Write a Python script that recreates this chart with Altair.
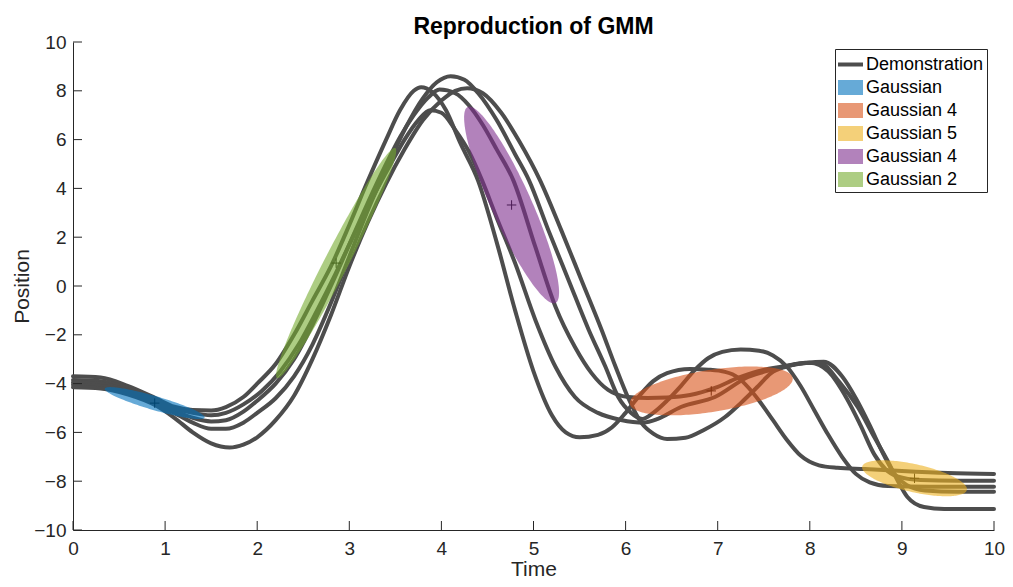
import altair as alt
import numpy as np
import pandas as pd

FONT = "Liberation Sans"

# ---------------- data ----------------
# five demonstrations (time, position)
demo_a_t = [0, 0.3, 0.6, 0.9, 1.1, 1.3, 1.5, 1.66, 1.85, 2.0, 2.2, 2.4, 2.6, 2.8, 3.0, 3.2, 3.4, 3.55, 3.7, 3.78,
            3.9, 4.05, 4.2, 4.4, 4.6, 4.8, 5.0, 5.2, 5.35, 5.5, 5.7, 5.85, 6.0, 6.15, 6.3, 6.45, 6.7, 6.9, 7.08,
            7.22, 7.33, 7.45, 7.6, 7.75, 7.9, 8.1, 8.3, 8.6, 9.0, 9.5, 10]
demo_a_y = [-3.70, -3.75, -4.1, -4.6, -4.95, -5.08, -5.1, -4.96, -4.55, -4.0, -3.2, -2.0, -0.6, 0.8, 2.5, 4.3, 6.0,
            7.2, 8.0, 8.15, 7.95, 7.2, 5.9, 4.3, 1.8, -1.0, -3.5, -5.3, -6.0, -6.2, -6.1, -5.8, -5.2, -4.5, -3.9,
            -3.57, -3.4, -3.43, -3.52, -3.75, -4.15, -4.7, -5.5, -6.3, -6.95, -7.35, -7.45, -7.5, -7.58, -7.66, -7.70]

demo_b_t = [0, 0.3, 0.6, 0.9, 1.1, 1.3, 1.5, 1.66, 1.85, 2.05, 2.25, 2.45, 2.65, 2.85, 3.05, 3.25, 3.45, 3.6, 3.75,
            3.88, 4.0, 4.15, 4.3, 4.44, 4.6, 4.8, 5.02, 5.24, 5.45, 5.7, 5.95, 6.2, 6.35, 6.6, 6.97, 7.33, 7.58, 7.8,
            8.0, 8.2, 8.4, 8.55, 8.7, 8.82, 8.95, 9.2, 9.6, 10]
demo_b_y = [-3.85, -3.9, -4.2, -4.7, -5.0, -5.2, -5.3, -5.2, -4.85, -4.3, -3.5, -2.4, -1.0, 0.5, 2.1, 3.6, 5.0, 6.0,
            6.8, 7.2, 7.1, 6.4, 5.5, 4.34, 2.8, 0.94, -1.39, -3.32, -4.55, -5.2, -5.49, -5.6, -5.45, -4.96, -4.55,
            -3.73, -3.44, -3.25, -3.15, -3.5, -4.6, -5.7, -6.9, -7.5, -7.8, -7.95, -7.98, -7.98]

demo_c_t = [0, 0.3, 0.6, 0.9, 1.1, 1.3, 1.5, 1.66, 1.85, 2.0, 2.2, 2.4, 2.6, 2.8, 3.0, 3.2, 3.4, 3.55, 3.7, 3.85,
            3.98, 4.15, 4.3, 4.45, 4.6, 4.78, 5.02, 5.24, 5.45, 5.63, 5.81, 6.03, 6.24, 6.45, 6.7, 6.97, 7.22, 7.43,
            7.7, 7.95, 8.15, 8.35, 8.5, 8.65, 8.8, 8.92, 9.05, 9.25, 9.6, 10]
demo_c_y = [-3.95, -4.0, -4.3, -4.75, -5.1, -5.4, -5.55, -5.5, -5.15, -4.7, -4.0, -3.0, -1.6, 0.0, 1.7, 3.4, 5.0,
            6.1, 7.0, 7.7, 8.05, 7.9, 7.4, 6.6, 5.6, 4.34, 1.6, -0.86, -2.5, -3.57, -4.26, -4.55, -4.59, -4.57,
            -4.47, -4.18, -3.77, -3.5, -3.3, -3.15, -3.1, -3.7, -4.6, -5.7, -6.9, -7.7, -8.15, -8.38, -8.43, -8.43]

demo_d_t = [0, 0.3, 0.6, 0.9, 1.1, 1.3, 1.5, 1.66, 1.85, 2.0, 2.2, 2.4, 2.6, 2.8, 3.0, 3.2, 3.4, 3.6, 3.8, 3.95,
            4.1, 4.25, 4.4, 4.6, 4.8, 4.95, 5.16, 5.38, 5.6, 5.78, 5.92, 6.06, 6.18, 6.3, 6.45, 6.6, 6.75, 6.9,
            7.05, 7.25, 7.45, 7.6, 7.75, 7.9, 8.05, 8.2, 8.35, 8.5, 8.65, 8.85, 9.3, 10]
demo_d_y = [-4.05, -4.1, -4.35, -4.8, -5.2, -5.6, -5.85, -5.85, -5.6, -5.2, -4.6, -3.7, -2.4, -0.7, 1.2, 3.1, 4.8,
            6.4, 7.7, 8.35, 8.6, 8.45, 7.9, 6.8, 5.4, 4.34, 2.3, 0.25, -1.8, -3.3, -4.55, -5.2, -5.45, -5.2, -4.7,
            -4.1, -3.45, -2.95, -2.7, -2.6, -2.65, -2.85, -3.3, -4.1, -5.1, -6.1, -7.0, -7.7, -8.05, -8.2, -8.23,
            -8.23]

demo_e_t = [0, 0.3, 0.6, 0.9, 1.1, 1.3, 1.5, 1.7, 1.85, 2.0, 2.2, 2.4, 2.6, 2.8, 3.0, 3.2, 3.4, 3.6, 3.8, 4.0,
            4.15, 4.28, 4.45, 4.65, 4.85, 5.07, 5.3, 5.52, 5.74, 5.89, 6.03, 6.17, 6.3, 6.45, 6.65, 6.85, 7.08,
            7.25, 7.43, 7.58, 7.73, 7.95, 8.1, 8.33, 8.52, 8.7, 8.84, 8.95, 9.06, 9.24, 9.46, 10]
demo_e_y = [-4.15, -4.2, -4.45, -4.9, -5.4, -6.0, -6.45, -6.62, -6.5, -6.2, -5.5, -4.5, -3.0, -1.2, 0.8, 2.6, 4.2,
            5.6, 6.8, 7.6, 8.0, 8.1, 7.9, 7.1, 5.9, 4.34, 2.3, 0.25, -1.8, -3.3, -4.6, -5.6, -6.05, -6.27, -6.22,
            -5.9, -5.37, -4.8, -4.14, -3.57, -3.32, -3.16, -3.15, -3.98, -4.96, -6.19, -7.13, -7.95, -8.65, -9.06,
            -9.14, -9.14]

# Gaussian components: legend label, mean and covariance
gauss_names = ["Gaussian", "Gaussian 4", "Gaussian 5", "Gaussian 4 ", "Gaussian 2"]
gauss_mu_t = [0.887, 6.93, 9.137, 4.762, 2.857]
gauss_mu_y = [-4.80, -4.30, -7.88, 3.32, 0.94]
gauss_sxx = [0.2942, 0.7827, 0.3237, 0.2658, 0.4254]
gauss_sxy = [-0.3167, 0.4374, -0.2540, -1.845, 3.000]
gauss_syy = [0.4302, 1.0023, 0.5435, 16.24, 22.26]

x_ticks = [0, 1, 2, 3, 4, 5, 6, 7, 8, 9, 10]
y_ticks = [-10, -8, -6, -4, -2, 0, 2, 4, 6, 8, 10]

# ---------------- styles ----------------
DEMO_COLOR = "#4d4d4d"
gauss_colors = ["#0072BD", "#D95319", "#EDB120", "#7E2F8E", "#77AC30"]
legend_domain = ["Demonstration"] + gauss_names
swatch_colors = ["#4d4d4d", "#66AAD7", "#E89875", "#F4D079", "#B282BB", "#ADCD83"]
plus_colors = ["#00446f", "#82320f", "#8e6a13", "#4b1c55", "#47671d"]
AXIS_COLOR = "#262626"

W, H = 921, 488

# ---------------- tables ----------------
demos = [(demo_a_t, demo_a_y), (demo_b_t, demo_b_y), (demo_c_t, demo_c_y),
         (demo_d_t, demo_d_y), (demo_e_t, demo_e_y)]
rows = []
for i, (ts, ys) in enumerate(demos):
    for t, y in zip(ts, ys):
        rows.append({"curve": i, "t": t, "y": y})
lines_df = pd.DataFrame(rows)

erows = []
theta = np.linspace(0, np.pi, 91)
for k, name in enumerate(gauss_names):
    sxx, sxy, syy = gauss_sxx[k], gauss_sxy[k], gauss_syy[k]
    det = sxx * syy - sxy * sxy
    dx = np.sqrt(sxx) * np.cos(theta)
    yc = gauss_mu_y[k] + sxy / sxx * dx
    half = np.sqrt(det / sxx) * np.sin(theta)
    for a, b, c in zip(dx, yc + half, yc - half):
        erows.append({"gid": k, "t": gauss_mu_t[k] + a, "y": b, "ybot": c, "col": gauss_colors[k]})
ell_df = pd.DataFrame(erows)

centers_df = pd.DataFrame({"t": gauss_mu_t, "y": gauss_mu_y, "pc": plus_colors})
xt_df = pd.DataFrame({"t": x_ticks})
yt_df = pd.DataFrame({"y": y_ticks})
legend_df = pd.DataFrame({"series": legend_domain, "t": [None] * 6, "y": [None] * 6})

# ---------------- chart ----------------
xs = alt.Scale(domain=[0, 10], nice=False, zero=False)
ys = alt.Scale(domain=[-10, 10], nice=False, zero=False)

x_axis = alt.Axis(values=x_ticks, title="Time", grid=False, ticks=False, labelFlush=False,
                  domainColor=AXIS_COLOR, domainWidth=1,
                  labelFont=FONT, labelFontSize=19, labelColor=AXIS_COLOR, labelPadding=9,
                  titleFont=FONT, titleFontSize=21, titleFontWeight="normal", titleColor=AXIS_COLOR,
                  titleBaseline="alphabetic", titleY=45)
y_axis = alt.Axis(values=y_ticks, title="Position", grid=False, ticks=False, labelFlush=False,
                  domainColor=AXIS_COLOR, domainWidth=1,
                  labelFont=FONT, labelFontSize=19, labelColor=AXIS_COLOR, labelPadding=7,
                  titleFont=FONT, titleFontSize=21, titleFontWeight="normal", titleColor=AXIS_COLOR,
                  titleBaseline="alphabetic", titleX=-45, titleAngle=270)

X = alt.X("t:Q", scale=xs, axis=x_axis)
Y = alt.Y("y:Q", scale=ys, axis=y_axis)

# legend symbols: thick line for the demonstrations, 25x15 swatches for the Gaussians
LINE_PATH = "M-1,-0.16L1,-0.16L1,0.16L-1,0.16Z"
RECT_PATH = "M-1,-0.6L1,-0.6L1,0.6L-1,0.6Z"

legend = alt.Legend(
    title=None, orient="top-right", offset=7,
    labelFont=FONT, labelFontSize=18, labelColor="black", labelOffset=3,
    symbolSize=625, symbolStrokeWidth=0,
    padding=3, rowPadding=1, strokeColor=AXIS_COLOR, fillColor="white",
)

lines = alt.Chart(lines_df).mark_line(
    color=DEMO_COLOR, strokeWidth=4, interpolate="monotone", strokeCap="round", strokeJoin="round"
).encode(x=X, y=Y, detail="curve:N")

ellipses = alt.Chart(ell_df).mark_area(opacity=0.6, interpolate="linear").encode(
    x=X, y=Y, y2="ybot:Q",
    color=alt.Color("col:N", scale=None),
    detail="gid:N",
)

centers = alt.Chart(centers_df).mark_point(
    shape="M-1,0L1,0M0,-1L0,1", size=90, strokeWidth=1, filled=False, opacity=1
).encode(x=X, y=Y, stroke=alt.Stroke("pc:N", scale=None))

# MATLAB-style inward ticks
xticks = alt.Chart(xt_df).mark_rule(color=AXIS_COLOR, strokeWidth=1).encode(
    x=X, y=alt.value(H), y2=alt.value(H - 9))
yticks = alt.Chart(yt_df).mark_rule(color=AXIS_COLOR, strokeWidth=1).encode(
    y=Y, x=alt.value(0), x2=alt.value(9))

# legend-only layer: its rows carry no position, so they draw nothing
legend_layer = alt.Chart(legend_df).transform_filter("isValid(datum.t)").mark_point(
    filled=True, size=625, opacity=1
).encode(
    x=X, y=Y,
    fill=alt.Fill("series:N", scale=alt.Scale(domain=legend_domain, range=swatch_colors), legend=legend),
    shape=alt.Shape("series:N", scale=alt.Scale(domain=legend_domain,
                                                range=[LINE_PATH] + [RECT_PATH] * 5), legend=legend),
)

chart = alt.layer(lines, ellipses, centers, xticks, yticks, legend_layer).properties(
    width=W, height=H,
    title=alt.Title("Reproduction of GMM", font=FONT, fontSize=23, fontWeight="bold",
                    color="black", anchor="middle", frame="group", offset=0,
                    baseline="alphabetic", dy=24),
    padding={"left": 65, "top": 34, "right": 11, "bottom": 49},
    autosize=alt.AutoSizeParams(type="none"),
).configure(background="white").configure_view(stroke=None)

chart.save("out.html", embed_options={"renderer": "svg", "actions": False})
